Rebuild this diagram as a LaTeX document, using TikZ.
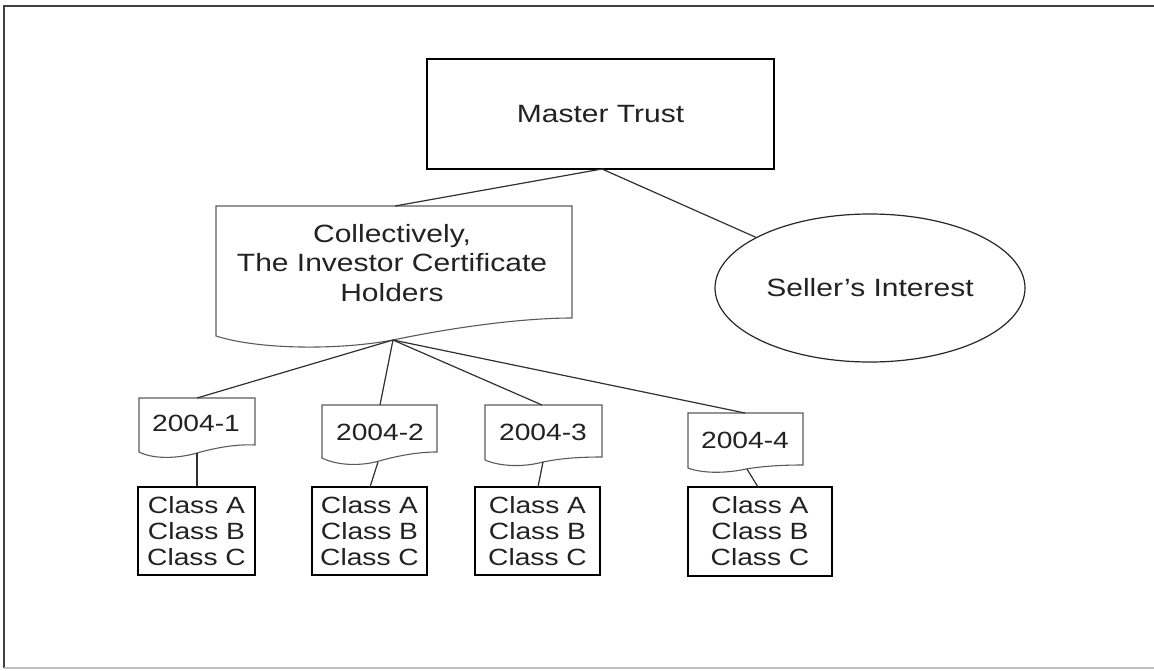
\documentclass[tikz,border=0pt]{standalone}
\usepackage{fontspec}
\setmainfont{Liberation Sans}[FakeStretch=1.2]
\usetikzlibrary{shapes.geometric}
\definecolor{ink}{HTML}{222222}
\definecolor{conn}{HTML}{303030}
\definecolor{docline}{HTML}{5A5A5A}
\tikzset{
  bigtext/.style={font=\fontsize{25}{29.5}\selectfont, text=ink, align=center, inner sep=0pt},
  smalltext/.style={font=\fontsize{23.5}{26}\selectfont, text=ink, align=center, inner sep=0pt},
  mainbox/.style={draw=black, line width=1.5pt, bigtext},
  classbox/.style={draw=black, line width=1.5pt, smalltext},
  docpath/.style={draw=docline, line width=1.1pt},
  conn/.style={draw=conn, line width=1.2pt},
}
\begin{document}
\begin{tikzpicture}[x=1pt,y=-1pt]
\useasboundingbox (0,0) rectangle (1154,670);
% frame
\draw[line width=2pt, draw=black!75] (4,668) -- (4,6) -- (1154,6);
\draw[line width=1.5pt, draw=black!25] (4,668) -- (1154,668);

% Master Trust
\node[mainbox, minimum width=347pt, minimum height=110pt] (mt) at (600.5,114) {Master Trust};
% Seller's interest
\node[ellipse, draw=black!85, line width=1.2pt, minimum width=310pt, minimum height=148pt, bigtext] (si) at (870,288) {Seller’s Interest};

% big document shape
\draw[docpath] (216,206) -- (572,206) -- (572,318)
  .. controls (520,318) and (450,328) .. (393,340)
  .. controls (340,350) and (260,350) .. (216,336) -- cycle;
\node[bigtext] (ich) at (392,263) {Collectively,\\The Investor Certificate\\Holders};
\coordinate (ichtop) at (395,206);
\coordinate (ichbot) at (393,340);

% series documents
\draw[docpath] (139,398) -- (255,398) -- (255,445)
  .. controls (235,444) and (215,448) .. (197,453)
  .. controls (180,458) and (155,460) .. (139,452) -- cycle;
\node[smalltext] (s1) at (196,423) {2004-1};
\coordinate (s1top) at (197,398);
\coordinate (s1bot) at (197,453);

\draw[docpath] (322,405) -- (437,405) -- (437,452)
  .. controls (417,452) and (397,456) .. (379,461)
  .. controls (362,466) and (338,466) .. (322,458) -- cycle;
\node[smalltext] (s2) at (380,432) {2004-2};
\coordinate (s2top) at (380,405);
\coordinate (s2bot) at (378,462);

\draw[docpath] (485,405) -- (602,405) -- (602,457)
  .. controls (582,457) and (562,458) .. (543,462)
  .. controls (525,467) and (501,467) .. (485,460) -- cycle;
\node[smalltext] (s3) at (543,432) {2004-3};
\coordinate (s3top) at (542,405);
\coordinate (s3bot) at (543,462);

\draw[docpath] (688,413) -- (803,413) -- (803,465)
  .. controls (783,465) and (764,466) .. (746,469)
  .. controls (728,473) and (704,474) .. (688,468) -- cycle;
\node[smalltext] (s4) at (745,440) {2004-4};
\coordinate (s4top) at (745,413);
\coordinate (s4bot) at (747,469);

% class boxes
\node[classbox, minimum width=117pt, minimum height=88pt] (c1) at (196.5,531) {Class A\\Class B\\Class C};
\node[classbox, minimum width=115pt, minimum height=88pt] (c2) at (369.5,531) {Class A\\Class B\\Class C};
\node[classbox, minimum width=125pt, minimum height=88pt] (c3) at (537.5,531) {Class A\\Class B\\Class C};
\node[classbox, minimum width=144pt, minimum height=89pt] (c4) at (760,531.5) {Class A\\Class B\\Class C};

% connectors
\coordinate (mtb) at (602,169);
\draw[conn] (mtb) -- (ichtop);
\draw[conn] (mtb) -- (si);
\draw[conn] (ichbot) -- (s1top);
\draw[conn] (ichbot) -- (s2top);
\draw[conn] (ichbot) -- (s3top);
\draw[conn] (ichbot) -- (s4top);
\draw[conn] (s1bot) -- (c1.north -| s1bot);
\draw[conn] (s2bot) -- (370,487);
\draw[conn] (s3bot) -- (538,487);
\draw[conn] (s4bot) -- (758,487);
\end{tikzpicture}
\end{document}
